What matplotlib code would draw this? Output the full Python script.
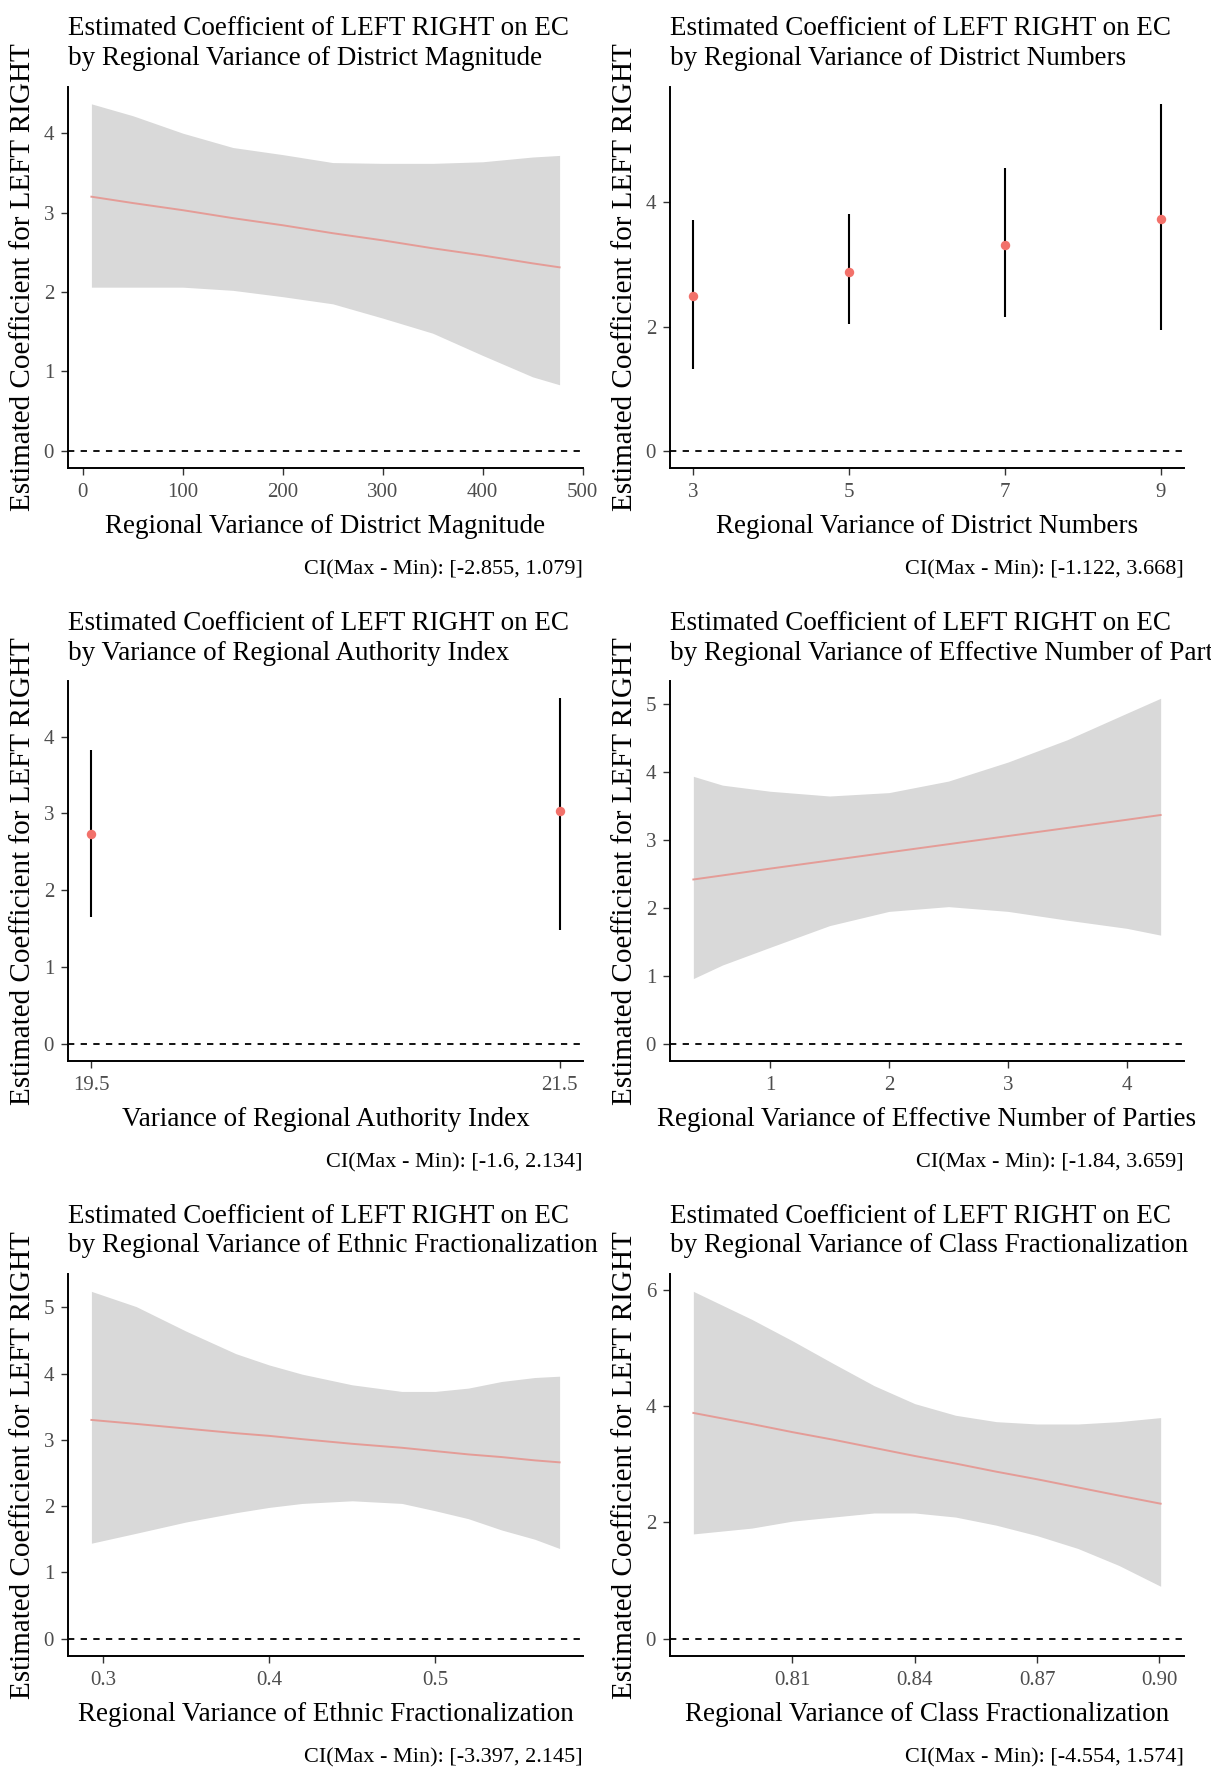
import numpy as np
import matplotlib
matplotlib.use("Agg")
import matplotlib.pyplot as plt

plt.rcParams["font.family"] = ["Liberation Serif", "DejaVu Serif"]

# ---- data -----------------------------------------------------------------
titles = [
    "by Regional Variance of District Magnitude",
    "by Regional Variance of District Numbers",
    "by Variance of Regional Authority Index",
    "by Regional Variance of Effective Number of Parties",
    "by Regional Variance of Ethnic Fractionalization",
    "by Regional Variance of Class Fractionalization",
]
xlabels = [
    "Regional Variance of District Magnitude",
    "Regional Variance of District Numbers",
    "Variance of Regional Authority Index",
    "Regional Variance of Effective Number of Parties",
    "Regional Variance of Ethnic Fractionalization",
    "Regional Variance of Class Fractionalization",
]
ci_notes = [
    "CI(Max - Min): [-2.855, 1.079]",
    "CI(Max - Min): [-1.122, 3.668]",
    "CI(Max - Min): [-1.6, 2.134]",
    "CI(Max - Min): [-1.84, 3.659]",
    "CI(Max - Min): [-3.397, 2.145]",
    "CI(Max - Min): [-4.554, 1.574]",
]

# District magnitude (continuous moderator)
dm_x = [8.5, 50, 100, 150, 200, 250, 300, 350, 400, 450, 477]
dm_est = [3.20, 3.12, 3.03, 2.93, 2.84, 2.74, 2.65, 2.55, 2.46, 2.36, 2.31]
dm_lo = [2.06, 2.06, 2.06, 2.02, 1.94, 1.85, 1.67, 1.48, 1.20, 0.93, 0.83]
dm_hi = [4.37, 4.22, 4.00, 3.82, 3.73, 3.63, 3.62, 3.62, 3.64, 3.70, 3.72]

# District numbers (discrete moderator)
dn_x = [3, 5, 7, 9]
dn_est = [2.49, 2.88, 3.31, 3.73]
dn_lo = [1.31, 2.04, 2.16, 1.95]
dn_hi = [3.72, 3.82, 4.56, 5.59]

# Regional authority index (discrete moderator)
rai_x = [19.5, 21.5]
rai_est = [2.73, 3.03]
rai_lo = [1.65, 1.48]
rai_hi = [3.82, 4.50]

# Effective number of parties
enp_x = [0.355, 0.6, 1.0, 1.5, 2.0, 2.5, 3.0, 3.5, 4.0, 4.284]
enp_est = [2.42, 2.48, 2.58, 2.70, 2.82, 2.94, 3.06, 3.18, 3.30, 3.37]
enp_lo = [0.96, 1.16, 1.42, 1.74, 1.95, 2.02, 1.95, 1.82, 1.70, 1.60]
enp_hi = [3.94, 3.81, 3.72, 3.65, 3.70, 3.87, 4.15, 4.48, 4.87, 5.09]

# Ethnic fractionalization
eth_x = [0.293, 0.32, 0.35, 0.38, 0.40, 0.42, 0.45, 0.48, 0.50, 0.52, 0.54, 0.56, 0.575]
eth_est = [3.30, 3.24, 3.17, 3.10, 3.06, 3.01, 2.94, 2.88, 2.83, 2.78, 2.74, 2.69, 2.66]
eth_lo = [1.44, 1.59, 1.76, 1.90, 1.98, 2.04, 2.08, 2.04, 1.93, 1.81, 1.64, 1.50, 1.36]
eth_hi = [5.24, 5.01, 4.64, 4.30, 4.13, 3.99, 3.83, 3.73, 3.73, 3.78, 3.88, 3.94, 3.96]

# Class fractionalization
cls_x = [0.7857, 0.80, 0.81, 0.82, 0.83, 0.84, 0.85, 0.86, 0.87, 0.88, 0.89, 0.9003]
cls_est = [3.88, 3.69, 3.55, 3.42, 3.28, 3.14, 3.01, 2.87, 2.74, 2.60, 2.46, 2.32]
cls_lo = [1.80, 1.90, 2.02, 2.09, 2.16, 2.16, 2.09, 1.95, 1.77, 1.55, 1.26, 0.90]
cls_hi = [5.97, 5.49, 5.12, 4.73, 4.35, 4.04, 3.84, 3.73, 3.69, 3.69, 3.73, 3.80]

xticks = [
    [0, 100, 200, 300, 400, 500],
    [3, 5, 7, 9],
    [19.5, 21.5],
    [1, 2, 3, 4],
    [0.3, 0.4, 0.5],
    [0.81, 0.84, 0.87, 0.90],
]
xticklabels = [
    ["0", "100", "200", "300", "400", "500"],
    ["3", "5", "7", "9"],
    ["19.5", "21.5"],
    ["1", "2", "3", "4"],
    ["0.3", "0.4", "0.5"],
    ["0.81", "0.84", "0.87", "0.90"],
]
yticks = [
    [0, 1, 2, 3, 4],
    [0, 2, 4],
    [0, 1, 2, 3, 4],
    [0, 1, 2, 3, 4, 5],
    [0, 1, 2, 3, 4, 5],
    [0, 2, 4, 6],
]

panels = [
    ("band", dm_x, dm_est, dm_lo, dm_hi),
    ("points", dn_x, dn_est, dn_lo, dn_hi),
    ("points", rai_x, rai_est, rai_lo, rai_hi),
    ("band", enp_x, enp_est, enp_lo, enp_hi),
    ("band", eth_x, eth_est, eth_lo, eth_hi),
    ("band", cls_x, cls_est, cls_lo, cls_hi),
]

# ---- layout (pixel geometry) ------------------------------------------------
W, H = 1211, 1767
col_lr = [(68, 583), (670, 1184)]
row_tb = [(86.5, 468), (681, 1061), (1274, 1656)]

RIBBON = "#D9D9D9"
LINE = "#E49C97"
POINT = "#F2716A"
TICKTXT = "#4D4D4D"

fig = plt.figure(figsize=(W / 100, H / 100), dpi=100)


def fx(px):
    return px / W


def fy(py):
    return 1 - py / H


def padded(lo, hi, frac=0.05):
    span = hi - lo
    return lo - frac * span, hi + frac * span


for i, (kind, x, est, lo, hi) in enumerate(panels):
    r, c = divmod(i, 2)
    left, right = col_lr[c]
    top, bottom = row_tb[r]
    ax = fig.add_axes([fx(left), fy(bottom), fx(right - left), (bottom - top) / H])

    x = np.asarray(x, float)
    if kind == "band":
        ax.fill_between(x, lo, hi, color=RIBBON, linewidth=0, zorder=1)
        ax.plot(x, est, color=LINE, linewidth=1.4, zorder=2)
    else:
        ax.vlines(x, lo, hi, color="black", linewidth=1.5, zorder=2)
        ax.plot(x, est, "o", color=POINT, markersize=6.8, markeredgewidth=0, zorder=3)

    ax.axhline(0, color="black", linewidth=1.3, linestyle=(0, (3.5, 3.5)), zorder=2)

    ax.set_xlim(*padded(x.min(), x.max()))
    ax.set_ylim(*padded(min(0, min(lo)), max(hi)))

    ax.set_xticks(xticks[i])
    ax.set_xticklabels(xticklabels[i])
    ax.set_yticks(yticks[i])
    ax.set_yticklabels([str(v) for v in yticks[i]])

    for s in ("top", "right"):
        ax.spines[s].set_visible(False)
    for s in ("left", "bottom"):
        ax.spines[s].set_linewidth(1.4)
        ax.spines[s].set_color("black")
    ax.tick_params(axis="both", direction="out", length=5, width=1.0,
                   color="#333333", labelcolor=TICKTXT, labelsize=15)
    ax.tick_params(axis="x", pad=6)
    ax.tick_params(axis="y", pad=5)
    ax.set_facecolor("none")

    # titles
    fig.text(fx(left), fy(top - 51.5), "Estimated Coefficient of LEFT RIGHT on EC",
             ha="left", va="baseline", fontsize=19.5, color="black")
    fig.text(fx(left), fy(top - 21.5), titles[i],
             ha="left", va="baseline", fontsize=19.5, color="black")

    # axis titles
    fig.text(fx((left + right) / 2), fy(bottom + 65), xlabels[i],
             ha="center", va="baseline", fontsize=19.5, color="black")
    fig.text(fx(left - 45), fy((top + bottom) / 2), "Estimated Coefficient for LEFT RIGHT",
             ha="center", va="center", rotation=90, fontsize=21, color="black")

    # CI caption
    fig.text(fx(right), fy(bottom + 106), ci_notes[i],
             ha="right", va="baseline", fontsize=16, color="black")

fig.savefig("out.png", dpi=100, facecolor="white")
